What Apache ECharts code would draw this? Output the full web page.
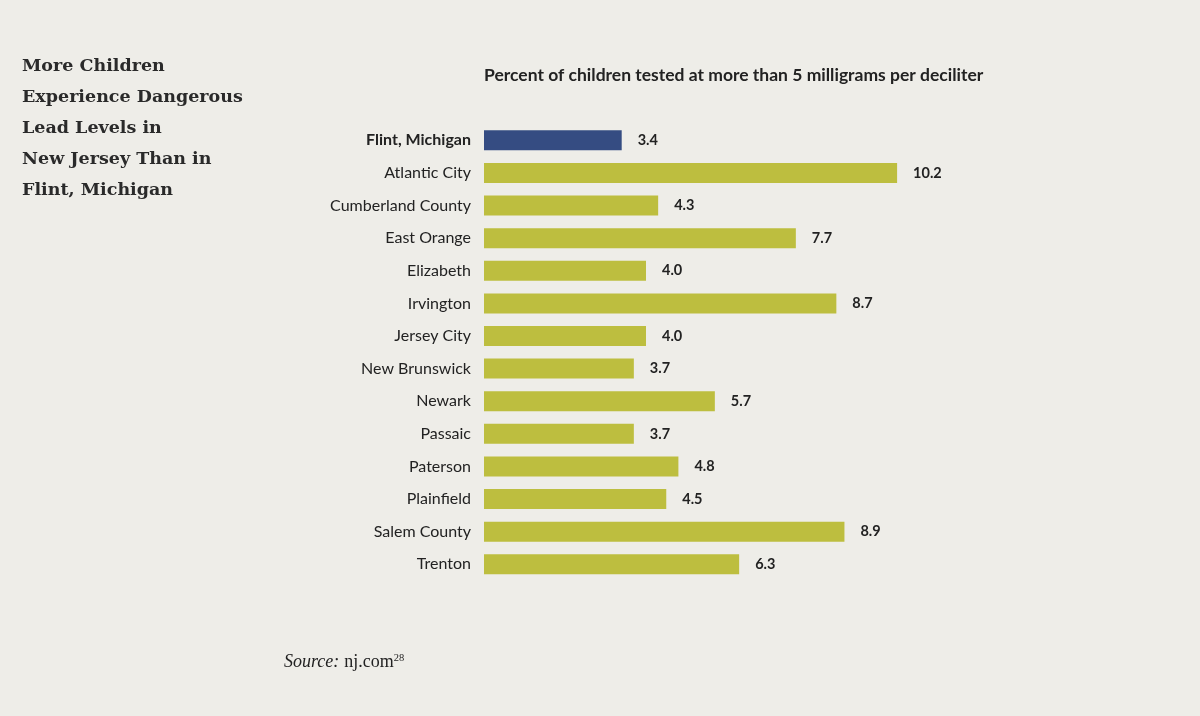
<!DOCTYPE html>
<html><head><meta charset="utf-8">
<script src="https://cdn.jsdelivr.net/npm/echarts@6/dist/echarts.min.js"></script>
<style>html,body{margin:0;padding:0;background:#eeede8;}#c{width:1200px;height:716px;}</style>
</head><body><div id="c"></div>
<script>
const categories = ["Flint, Michigan","Atlantic City","Cumberland County","East Orange","Elizabeth","Irvington","Jersey City","New Brunswick","Newark","Passaic","Paterson","Plainfield","Salem County","Trenton"];
const values = [3.4,10.2,4.3,7.7,4.0,8.7,4.0,3.7,5.7,3.7,4.8,4.5,8.9,6.3];
const titleLines = ["More Children","Experience Dangerous","Lead Levels in","New Jersey Than in","Flint, Michigan"];
const subtitle = "Percent of children tested at more than 5 milligrams per deciliter";

const chart = echarts.init(document.getElementById('c'));
const sans = 'Lato';
chart.setOption({
  backgroundColor: '#eeede8',
  animation: false,
  title: [
    {text: titleLines.join('\n'), left: 22, top: 51, padding: 0, textStyle: {fontFamily: 'DejaVu Serif', fontWeight: 'bold', fontSize: 17.5, lineHeight: 31, color: '#2a2a2a'}},
    {text: subtitle, left: 484, top: 66, padding: 0, textStyle: {fontFamily: sans, fontWeight: 'bold', fontSize: 17.5, color: '#222'}},
    {text: '{i|Source:} {n|nj.com}{s|28}', left: 284, top: 653, padding: 0, textStyle: {fontWeight: 'normal', rich: {
      i: {fontFamily: 'Liberation Serif', fontStyle: 'italic', fontWeight: 'normal', fontSize: 18, color: '#222'},
      n: {fontFamily: 'Liberation Serif', fontWeight: 'normal', fontSize: 18, color: '#222'},
      s: {fontFamily: 'Liberation Serif', fontWeight: 'normal', fontSize: 10.5, color: '#222', verticalAlign: 'top', padding: [0,0,8,0]}
    }}}
  ],
  grid: {left: 484, top: 124, width: 486, height: 456.6, containLabel: false},
  xAxis: {type: 'value', min: 0, max: 12, show: false},
  yAxis: {type: 'category', data: categories, inverse: true,
    axisLine: {show: false}, axisTick: {show: false},
    axisLabel: {margin: 13, fontFamily: sans, fontSize: 16, color: '#222',
      formatter: (v, i) => i === 0 ? '{b|' + v + '}' : v,
      rich: {b: {fontFamily: sans, fontSize: 16, fontWeight: 'bold', color: '#222'}}}
  },
  series: [{
    type: 'bar', barWidth: 20,
    data: values.map((v, i) => ({value: v, itemStyle: {color: i === 0 ? '#354c82' : '#bdbe3f'}})),
    label: {show: true, position: 'right', distance: 16, fontFamily: sans, fontWeight: 'bold', fontSize: 14.5, color: '#222',
      formatter: p => p.value.toFixed(1)}
  }]
});
</script></body></html>
